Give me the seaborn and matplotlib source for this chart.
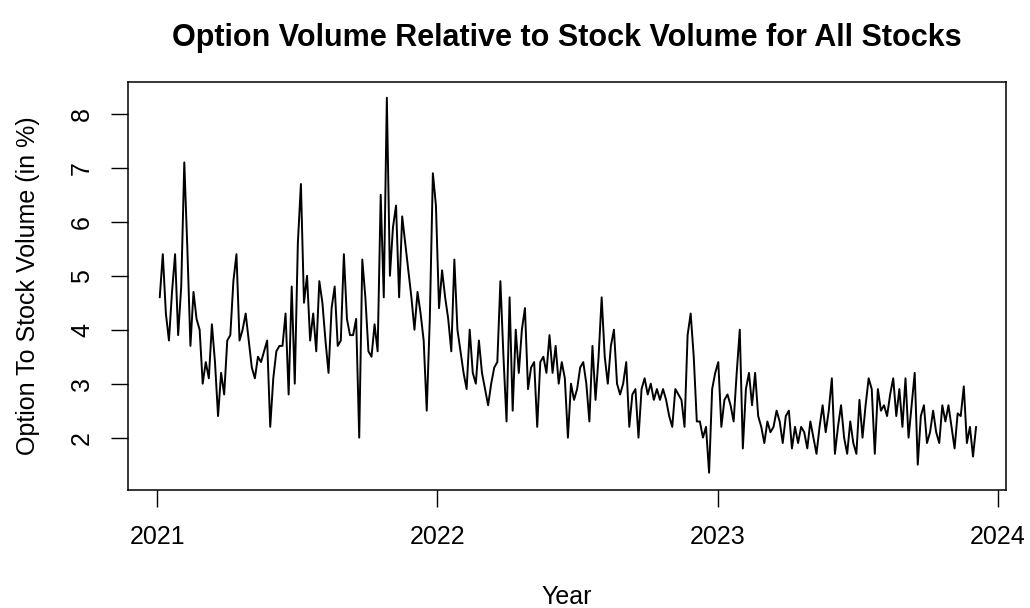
import pandas as pd
import numpy as np
import seaborn as sns
import matplotlib.pyplot as plt
import matplotlib.dates as mdates

# values, one every 4 calendar days from 2021-01-04
start_date = '2021-01-04'
step = '4D'
ratio = [
    4.6, 5.4, 4.3, 3.8, 4.7, 5.4, 3.9, 4.8, 7.1, 5.5,
    3.7, 4.7, 4.2, 4.0, 3.0, 3.4, 3.1, 4.1, 3.4, 2.4,
    3.2, 2.8, 3.8, 3.9, 4.9, 5.4, 3.8, 4.0, 4.3, 3.8,
    3.3, 3.1, 3.5, 3.4, 3.6, 3.8, 2.2, 3.1, 3.6, 3.7,
    3.7, 4.3, 2.8, 4.8, 3.0, 5.6, 6.7, 4.5, 5.0, 3.8,
    4.3, 3.6, 4.9, 4.5, 3.8, 3.2, 4.4, 4.8, 3.7, 3.8,
    5.4, 4.2, 3.9, 3.9, 4.2, 2.0, 5.3, 4.6, 3.6, 3.5,
    4.1, 3.6, 6.5, 4.6, 8.3, 5.0, 5.9, 6.3, 4.6, 6.1,
    5.6, 5.1, 4.6, 4.0, 4.7, 4.3, 3.8, 2.5, 4.2, 6.9,
    6.3, 4.4, 5.1, 4.6, 4.2, 3.6, 5.3, 4.0, 3.6, 3.2,
    2.9, 4.0, 3.2, 3.0, 3.8, 3.2, 2.9, 2.6, 3.0, 3.3,
    3.4, 4.9, 3.5, 2.3, 4.6, 2.5, 4.0, 3.2, 4.0, 4.4,
    2.9, 3.3, 3.4, 2.2, 3.4, 3.5, 3.2, 3.9, 3.2, 3.7,
    3.0, 3.4, 3.1, 2.0, 3.0, 2.7, 2.9, 3.3, 3.4, 3.0,
    2.3, 3.7, 2.7, 3.5, 4.6, 3.5, 3.0, 3.7, 4.0, 3.0,
    2.8, 3.0, 3.4, 2.2, 2.8, 2.9, 2.0, 2.9, 3.1, 2.8,
    3.0, 2.7, 2.9, 2.7, 2.9, 2.7, 2.4, 2.2, 2.9, 2.8,
    2.7, 2.2, 3.9, 4.3, 3.5, 2.3, 2.3, 2.0, 2.2, 1.35,
    2.9, 3.2, 3.4, 2.2, 2.7, 2.8, 2.6, 2.3, 3.2, 4.0,
    1.8, 2.9, 3.2, 2.6, 3.2, 2.4, 2.2, 1.9, 2.3, 2.1,
    2.2, 2.5, 2.3, 1.9, 2.4, 2.5, 1.8, 2.2, 1.9, 2.2,
    2.1, 1.8, 2.3, 2.0, 1.7, 2.2, 2.6, 2.1, 2.5, 3.1,
    1.7, 2.2, 2.6, 2.0, 1.7, 2.3, 1.9, 1.7, 2.7, 2.0,
    2.6, 3.1, 2.9, 1.7, 2.9, 2.5, 2.6, 2.4, 2.8, 3.1,
    2.4, 2.9, 2.2, 3.1, 2.0, 2.6, 3.2, 1.5, 2.4, 2.6,
    1.9, 2.1, 2.5, 2.1, 1.9, 2.6, 2.3, 2.6, 2.2, 1.8,
    2.45, 2.4, 2.95, 1.9, 2.2, 1.65, 2.2,
]
year_ticks = ['2021', '2022', '2023', '2024']
y_ticks = [2, 3, 4, 5, 6, 7, 8]

df = pd.DataFrame({'date': pd.date_range(start_date, periods=len(ratio), freq=step),
                   'ratio': ratio})

sns.set_style("ticks")
plt.rcParams['font.family'] = ['Liberation Sans', 'DejaVu Sans']
plt.rcParams['text.color'] = 'black'
plt.rcParams['axes.labelcolor'] = 'black'
plt.rcParams['xtick.color'] = 'black'
plt.rcParams['ytick.color'] = 'black'

fig = plt.figure(figsize=(10.3, 6.08), dpi=100)
ax = fig.add_axes([0.1238, 0.1941, 0.8529, 0.671])

sns.lineplot(data=df, x='date', y='ratio', color='black', linewidth=1.4, ax=ax)

ax.set_xlim(pd.Timestamp('2020-11-23'), pd.Timestamp('2024-01-12'))
ax.set_ylim(1.03, 8.59)
ax.set_xticks([pd.Timestamp(y + '-01-01') for y in year_ticks])
ax.set_xticklabels(year_ticks)
ax.set_yticks(y_ticks)
ax.set_yticklabels([str(v) for v in y_ticks], rotation=90, va='center')

for s in ax.spines.values():
    s.set_visible(True)
    s.set_linewidth(1.1)
    s.set_color('black')
ax.tick_params(axis='both', length=12, width=1.0, color='black', labelcolor='black',
               labelsize=18, pad=12)
ax.tick_params(axis='x', pad=13)

ax.set_xlabel('Year', fontsize=18, labelpad=26, color='black')
ax.set_ylabel('Option To Stock Volume (in %)', fontsize=18, labelpad=22, color='black')
# R centres the main title over the plot region, not the figure
fig.suptitle('Option Volume Relative to Stock Volume for All Stocks',
             fontsize=22, fontweight='bold', x=0.55, y=0.962, color='black')

fig.savefig('out.png', dpi=100)
